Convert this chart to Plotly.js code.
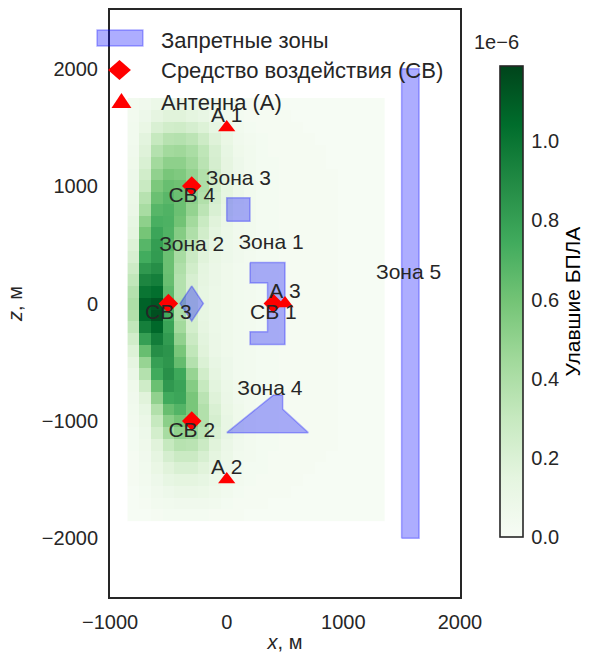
<!DOCTYPE html>
<html>
<head>
<meta charset="utf-8">
<script src="https://cdn.plot.ly/plotly-3.0.1.min.js"></script>
<style>html,body{margin:0;padding:0;background:#fff;}#chart{width:594px;height:653px;}</style>
</head>
<body>
<div id="chart"></div>
<script>
// ---- heatmap grid (cell centres, metres) ----
const xCenters = [-800,-700,-600,-500,-400,-300,-200,-100,0,100,200,300,400,500,600,700,800,900,1000,1100,1200,1300];
const zCenters = [-1800,-1700,-1600,-1500,-1400,-1300,-1200,-1100,-1000,-900,-800,-700,-600,-500,-400,-300,-200,-100,0,100,200,300,400,500,600,700,800,900,1000,1100,1200,1300,1400,1500,1600,1700];
// values in units of 1e-6, rows from z=-1800 (bottom) to z=1700 (top)
const caught = [
[0.01,0.01,0.02,0.03,0.03,0.03,0.03,0.02,0.02,0.02,0.01,0.01,0.01,0.01,0.01,0.01,0.01,0.01,0.01,0.01,0.01,0.01],
[0.01,0.02,0.04,0.05,0.06,0.06,0.06,0.05,0.03,0.02,0.02,0.02,0.01,0.01,0.01,0.01,0.01,0.01,0.01,0.01,0.01,0.01],
[0.01,0.03,0.06,0.08,0.10,0.10,0.09,0.07,0.05,0.03,0.02,0.02,0.02,0.02,0.01,0.01,0.01,0.01,0.01,0.01,0.01,0.01],
[0.02,0.04,0.08,0.13,0.15,0.15,0.13,0.09,0.06,0.04,0.03,0.02,0.02,0.02,0.02,0.01,0.01,0.01,0.01,0.01,0.01,0.01],
[0.02,0.05,0.11,0.17,0.21,0.21,0.17,0.12,0.08,0.05,0.03,0.03,0.02,0.02,0.02,0.02,0.01,0.01,0.01,0.01,0.01,0.01],
[0.02,0.06,0.14,0.23,0.28,0.28,0.22,0.15,0.09,0.05,0.04,0.03,0.02,0.02,0.02,0.02,0.02,0.01,0.01,0.01,0.01,0.01],
[0.03,0.07,0.17,0.30,0.36,0.35,0.28,0.17,0.10,0.06,0.04,0.03,0.03,0.02,0.02,0.02,0.02,0.02,0.01,0.01,0.01,0.01],
[0.03,0.08,0.24,0.42,0.50,0.47,0.35,0.21,0.12,0.07,0.04,0.03,0.03,0.02,0.02,0.02,0.02,0.02,0.01,0.01,0.01,0.01],
[0.04,0.10,0.30,0.52,0.59,0.54,0.38,0.23,0.12,0.07,0.04,0.03,0.03,0.02,0.02,0.02,0.02,0.02,0.01,0.01,0.01,0.01],
[0.05,0.13,0.38,0.63,0.69,0.58,0.38,0.21,0.11,0.07,0.04,0.03,0.03,0.02,0.02,0.02,0.02,0.02,0.01,0.01,0.01,0.01],
[0.06,0.17,0.50,0.75,0.77,0.58,0.35,0.18,0.10,0.06,0.04,0.03,0.03,0.02,0.02,0.02,0.02,0.02,0.01,0.01,0.01,0.01],
[0.07,0.26,0.62,0.83,0.78,0.54,0.30,0.16,0.09,0.06,0.04,0.03,0.03,0.02,0.02,0.02,0.02,0.02,0.01,0.01,0.01,0.01],
[0.10,0.37,0.75,0.87,0.76,0.48,0.25,0.14,0.08,0.05,0.04,0.03,0.03,0.02,0.02,0.02,0.02,0.02,0.01,0.01,0.01,0.01],
[0.14,0.48,0.80,0.84,0.64,0.37,0.20,0.12,0.08,0.05,0.04,0.03,0.03,0.02,0.02,0.02,0.02,0.02,0.01,0.01,0.01,0.01],
[0.19,0.63,0.88,0.85,0.58,0.32,0.17,0.10,0.07,0.05,0.04,0.03,0.03,0.02,0.02,0.02,0.02,0.02,0.01,0.01,0.01,0.01],
[0.25,0.80,0.96,0.82,0.50,0.28,0.16,0.10,0.07,0.05,0.04,0.03,0.03,0.02,0.02,0.02,0.02,0.02,0.01,0.01,0.01,0.01],
[0.32,0.95,1.06,0.78,0.44,0.24,0.14,0.09,0.07,0.05,0.04,0.03,0.03,0.02,0.02,0.02,0.02,0.02,0.01,0.01,0.01,0.01],
[0.38,1.06,1.15,0.74,0.40,0.23,0.13,0.09,0.07,0.05,0.04,0.03,0.03,0.02,0.02,0.02,0.02,0.02,0.01,0.01,0.01,0.01],
[0.40,1.08,1.12,0.69,0.38,0.22,0.13,0.09,0.07,0.05,0.04,0.03,0.03,0.02,0.02,0.02,0.02,0.02,0.01,0.01,0.01,0.01],
[0.37,1.00,1.03,0.66,0.37,0.22,0.13,0.09,0.07,0.05,0.04,0.03,0.03,0.02,0.02,0.02,0.02,0.02,0.01,0.01,0.01,0.01],
[0.32,0.92,0.95,0.63,0.37,0.22,0.14,0.10,0.07,0.05,0.04,0.03,0.03,0.02,0.02,0.02,0.02,0.02,0.01,0.01,0.01,0.01],
[0.27,0.83,0.88,0.62,0.39,0.25,0.15,0.10,0.07,0.05,0.04,0.03,0.03,0.02,0.02,0.02,0.02,0.02,0.01,0.01,0.01,0.01],
[0.22,0.74,0.82,0.62,0.42,0.28,0.17,0.11,0.08,0.06,0.04,0.03,0.03,0.02,0.02,0.02,0.02,0.02,0.01,0.01,0.01,0.01],
[0.19,0.68,0.81,0.67,0.50,0.34,0.21,0.13,0.08,0.06,0.05,0.03,0.03,0.02,0.02,0.02,0.02,0.02,0.01,0.01,0.01,0.01],
[0.15,0.59,0.77,0.70,0.54,0.39,0.25,0.15,0.09,0.06,0.05,0.03,0.03,0.02,0.02,0.02,0.02,0.02,0.01,0.01,0.01,0.01],
[0.13,0.51,0.72,0.71,0.60,0.44,0.29,0.17,0.10,0.06,0.05,0.03,0.03,0.02,0.02,0.02,0.02,0.02,0.01,0.01,0.01,0.01],
[0.10,0.42,0.68,0.70,0.62,0.49,0.34,0.21,0.12,0.07,0.05,0.03,0.03,0.02,0.02,0.02,0.02,0.02,0.01,0.01,0.01,0.01],
[0.09,0.36,0.62,0.67,0.62,0.51,0.38,0.23,0.14,0.08,0.05,0.03,0.03,0.02,0.02,0.02,0.02,0.02,0.01,0.01,0.01,0.01],
[0.08,0.29,0.57,0.63,0.61,0.52,0.40,0.25,0.15,0.08,0.05,0.03,0.03,0.02,0.02,0.02,0.02,0.02,0.01,0.01,0.01,0.01],
[0.08,0.25,0.50,0.58,0.56,0.49,0.38,0.25,0.14,0.08,0.05,0.03,0.03,0.02,0.02,0.02,0.02,0.02,0.01,0.01,0.01,0.01],
[0.07,0.21,0.44,0.51,0.51,0.45,0.35,0.23,0.14,0.08,0.05,0.03,0.03,0.02,0.02,0.02,0.02,0.01,0.01,0.01,0.01,0.01],
[0.06,0.18,0.37,0.44,0.45,0.41,0.33,0.22,0.13,0.07,0.05,0.03,0.02,0.02,0.02,0.02,0.02,0.01,0.01,0.01,0.01,0.01],
[0.05,0.16,0.30,0.36,0.37,0.34,0.27,0.18,0.11,0.06,0.04,0.03,0.02,0.02,0.02,0.02,0.01,0.01,0.01,0.01,0.01,0.01],
[0.05,0.11,0.21,0.25,0.26,0.23,0.19,0.13,0.08,0.05,0.03,0.02,0.02,0.02,0.02,0.01,0.01,0.01,0.01,0.01,0.01,0.01],
[0.04,0.08,0.14,0.17,0.17,0.15,0.12,0.08,0.05,0.03,0.02,0.02,0.02,0.02,0.01,0.01,0.01,0.01,0.01,0.01,0.01,0.01],
[0.04,0.06,0.09,0.10,0.10,0.09,0.07,0.05,0.04,0.02,0.02,0.02,0.02,0.01,0.01,0.01,0.01,0.01,0.01,0.01,0.01,0.01]
];
const colorbarTicks = [0.0,0.2,0.4,0.6,0.8,1.0];

// ---- forbidden zones (polygons) ----
const zone1X = [200,500,500,200,200,350,350,200,200];
const zone1Z = [350,350,-350,-350,-240,-240,175,175,350];
const zone2X = [-300,-200,-300,-400,-300];
const zone2Z = [150,0,-150,0,150];
const zone3X = [0,200,200,0,0];
const zone3Z = [700,700,900,900,700];
const zone4X = [0,400,480,480,700,0];
const zone4Z = [-1100,-780,-780,-900,-1100,-1100];
const zone5X = [1500,1650,1650,1500,1500];
const zone5Z = [-2000,-2000,2000,2000,-2000];
const zoneNames = ["Зона 1","Зона 2","Зона 3","Зона 4","Зона 5"];
const zoneLabelX = [380,-300,100,370,1560];
const zoneLabelZ = [505,495,1050,-735,255];

// ---- effectors (СВ) and antennas (А) ----
const cbX = [400,-300,-500,-300];
const cbZ = [0,-1000,0,1000];
const cbNames = ["СВ 1","СВ 2","СВ 3","СВ 4"];
const antX = [0,0,500];
const antZ = [1500,-1500,0];
const antNames = ["А 1","А 2","А 3"];

// ---- legend entries ----
const legendNames = ["Запретные зоны","Средство воздействия (СВ)","Антенна (А)"];

const FONT = "Liberation Sans, Arial, Helvetica, sans-serif";
const TXT = "#262626";
const RED = "#ff0000";
const greens = [[0,"#f7fcf5"],[0.125,"#e5f5e0"],[0.25,"#c7e9c0"],[0.375,"#a1d99b"],[0.5,"#74c476"],[0.625,"#41ab5d"],[0.75,"#238b45"],[0.875,"#006d2c"],[1,"#00441b"]];
const zoneFill = "rgba(0,0,255,0.32)";
const zoneLine = "rgba(0,0,255,0.30)";

const traces = [];
traces.push({
  type: "heatmap", x: xCenters, y: zCenters, z: caught,
  colorscale: greens, zmin: 0, zmax: 1.19, showlegend: false, hoverinfo: "x+y+z",
  colorbar: {
    x: 1.111, xanchor: "left", xpad: 0, y: 0.5034, yanchor: "middle", ypad: 0,
    len: 0.8024, lenmode: "fraction", thickness: 23, outlinewidth: 1.6, outlinecolor: TXT,
    tickvals: colorbarTicks, tickformat: ".1f", ticks: "outside", ticklen: 4, tickcolor: "rgba(0,0,0,0)",
    tickfont: {family: FONT, size: 20, color: TXT},
    title: {text: "Улавшие БПЛА", side: "right", font: {family: FONT, size: 21, color: "#000"}}
  }
});
const zones = [[zone1X,zone1Z],[zone2X,zone2Z],[zone3X,zone3Z],[zone4X,zone4Z],[zone5X,zone5Z]];
zones.forEach((zn) => {
  traces.push({
    type: "scatter", mode: "lines", x: zn[0], y: zn[1], fill: "toself",
    fillcolor: zoneFill, line: {color: zoneLine, width: 1.5},
    name: legendNames[0], showlegend: false, hoverinfo: "skip"
  });
});
traces.push({
  type: "scatter", mode: "markers", x: cbX, y: cbZ, name: legendNames[1], showlegend: false,
  marker: {symbol: "diamond", size: 15, color: RED}
});
traces.push({
  type: "scatter", mode: "markers", x: antX, y: antZ, name: legendNames[2], showlegend: false,
  marker: {symbol: "triangle-up", size: 15, color: RED}
});
const lblFont = {family: FONT, size: 21, color: TXT};
traces.push({type: "scatter", mode: "text", x: cbX, y: cbZ, text: cbNames, textposition: "bottom center",
  textfont: lblFont, showlegend: false, hoverinfo: "skip"});
traces.push({type: "scatter", mode: "text", x: antX, y: antZ, text: antNames, textposition: "top center",
  textfont: lblFont, showlegend: false, hoverinfo: "skip"});
traces.push({type: "scatter", mode: "text", x: zoneLabelX, y: zoneLabelZ, text: zoneNames, textposition: "middle center",
  textfont: lblFont, showlegend: false, hoverinfo: "skip"});

// legend drawn in paper space (plot area: left 110px, width 351px; top 10px, height 587px)
const PL = 110, PW = 351, PT = 10, PH = 587;
const px = (v) => (v - PL) / PW;
const py = (v) => (PT + PH - v) / PH;
const shapes = [
  {type: "rect", xref: "paper", yref: "paper", x0: px(97), x1: px(143), y0: py(46), y1: py(30),
   fillcolor: zoneFill, line: {color: zoneLine, width: 1.5}},
  {type: "path", xref: "paper", yref: "paper",
   path: `M${px(108)},${py(70)} L${px(119.5)},${py(60)} L${px(131)},${py(70)} L${px(119.5)},${py(80)} Z`,
   fillcolor: RED, line: {width: 0}},
  {type: "path", xref: "paper", yref: "paper",
   path: `M${px(111.5)},${py(108)} L${px(121.5)},${py(93)} L${px(131.5)},${py(108)} Z`,
   fillcolor: RED, line: {width: 0}}
];
const legendY = [40, 71, 102];
const annotations = legendNames.map((t, i) => ({
  text: t, xref: "paper", yref: "paper", x: px(159), y: py(legendY[i]),
  xanchor: "left", yanchor: "middle", showarrow: false,
  font: {family: FONT, size: 22, color: TXT}
}));
annotations.push({
  text: "1e\u22126", xref: "paper", yref: "paper", x: px(522), y: py(55),
  xanchor: "right", yanchor: "bottom", showarrow: false,
  font: {family: FONT, size: 20, color: TXT}
});

const layout = {
  width: 594, height: 653,
  margin: {l: PL, r: 594 - PL - PW, t: PT, b: 653 - PT - PH},
  paper_bgcolor: "#fff", plot_bgcolor: "#fff",
  font: {family: FONT, size: 20, color: TXT},
  showlegend: false,
  xaxis: {
    range: [-1001, 2001], tickvals: [-1000,0,1000,2000], showgrid: false, zeroline: false,
    showline: true, mirror: true, linecolor: TXT, linewidth: 2,
    ticks: "outside", ticklen: 6, tickcolor: "rgba(0,0,0,0)",
    tickfont: {family: FONT, size: 20, color: TXT},
    title: {text: "<i>x</i>, м", standoff: 10, font: {family: FONT, size: 20, color: TXT}}
  },
  yaxis: {
    range: [-2500, 2500], tickvals: [-2000,-1000,0,1000,2000], showgrid: false, zeroline: false,
    showline: true, mirror: true, linecolor: TXT, linewidth: 2,
    ticks: "outside", ticklen: 6, tickcolor: "rgba(0,0,0,0)",
    tickfont: {family: FONT, size: 20, color: TXT},
    title: {text: "<i>z</i>, м", standoff: 14, font: {family: FONT, size: 20, color: TXT}}
  },
  shapes: shapes,
  annotations: annotations
};

Plotly.newPlot("chart", traces, layout, {displayModeBar: false, staticPlot: true});
</script>
</body>
</html>
